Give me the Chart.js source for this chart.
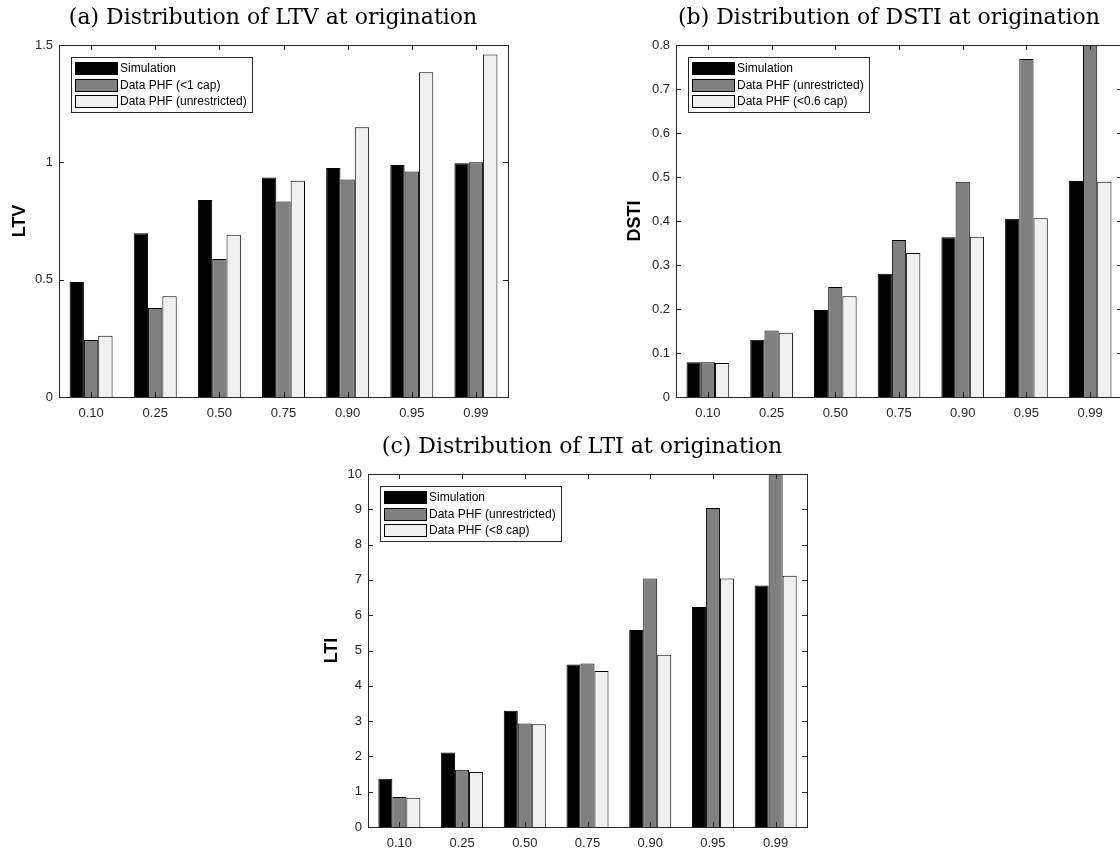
<!DOCTYPE html>
<html>
<head>
<meta charset="utf-8">
<title>Distributions at origination</title>
<script src="https://cdn.jsdelivr.net/npm/chart.js@4.4.1/dist/chart.umd.min.js"></script>
<style>
  html, body { margin: 0; padding: 0; background: #fff; overflow: hidden; width: 1120px; height: 850px; }
  .panel { position: absolute; }
</style>
</head>
<body>
<div class="panel" style="left:0;top:0;width:546px;height:425px"><canvas id="ltv"></canvas></div>
<div class="panel" style="left:600px;top:0;width:578px;height:425px"><canvas id="dsti"></canvas></div>
<div class="panel" style="left:300px;top:420px;width:564px;height:430px"><canvas id="lti"></canvas></div>
<script>
// quantiles on the x axis
const quantiles = ["0.10", "0.25", "0.50", "0.75", "0.90", "0.95", "0.99"];

// (a) LTV
const ltvSim = [0.49, 0.698, 0.839, 0.935, 0.976, 0.989, 0.996];
const ltvCap = [0.243, 0.379, 0.588, 0.833, 0.927, 0.961, 1.0];
const ltvAll = [0.261, 0.429, 0.691, 0.922, 1.149, 1.384, 1.46];

// (b) DSTI  (0.99 unrestricted goes off the top of the axis)
const dstiSim = [0.079, 0.130, 0.198, 0.280, 0.363, 0.405, 0.491];
const dstiAll = [0.079, 0.151, 0.250, 0.357, 0.489, 0.768, 0.95];
const dstiCap = [0.077, 0.146, 0.229, 0.327, 0.364, 0.406, 0.489];

// (c) LTI  (0.99 unrestricted goes off the top of the axis)
const ltiSim = [1.37, 2.11, 3.29, 4.60, 5.58, 6.23, 6.84];
const ltiAll = [0.85, 1.62, 2.93, 4.63, 7.04, 9.04, 11.5];
const ltiCap = [0.83, 1.56, 2.91, 4.42, 4.88, 7.04, 7.12];

const BLACK = "#000000", GREY = "#808080", LIGHT = "#f0f0f0";
const AXIS = "#262626";
const SANS = '"Liberation Sans", Arial, Helvetica, sans-serif';

// matlab style box with ticks pointing inwards
const matlabBox = {
	id: "matlabBox",
	afterDatasetsDraw(chart) {
		const { ctx, chartArea: a, scales: { x, y } } = chart;
		ctx.save();
		ctx.strokeStyle = AXIS;
		ctx.lineWidth = 1;
		ctx.beginPath();
		x.ticks.forEach((t, i) => {
			const px = Math.round(x.getPixelForTick(i)) + 0.5;
			ctx.moveTo(px, a.bottom); ctx.lineTo(px, a.bottom - 5);
			ctx.moveTo(px, a.top); ctx.lineTo(px, a.top + 5);
		});
		y.ticks.forEach((t, i) => {
			const py = Math.round(y.getPixelForTick(i)) + 0.5;
			ctx.moveTo(a.left, py); ctx.lineTo(a.left + 5, py);
			ctx.moveTo(a.right, py); ctx.lineTo(a.right - 5, py);
		});
		ctx.stroke();
		ctx.strokeRect(Math.round(a.left) + 0.5, Math.round(a.top) + 0.5,
			Math.round(a.right - a.left), Math.round(a.bottom - a.top));
		ctx.restore();
	},
};

// legend box in the upper left corner of the axes
const boxLegend = {
	id: "boxLegend",
	afterDraw(chart) {
		const { ctx, chartArea: a } = chart;
		const sets = chart.data.datasets;
		ctx.save();
		ctx.font = "12px " + SANS;
		const textW = Math.max(...sets.map((d) => ctx.measureText(d.label).width));
		const x0 = Math.round(a.left) + 12, y0 = Math.round(a.top) + 12;
		const rowH = 16.5;
		const w = Math.round(49 + textW + 5), h = Math.round(sets.length * rowH + 5);
		ctx.fillStyle = "#fff";
		ctx.fillRect(x0, y0, w, h);
		ctx.strokeStyle = AXIS;
		ctx.lineWidth = 1;
		ctx.strokeRect(x0 + 0.5, y0 + 0.5, w, h);
		ctx.textBaseline = "middle";
		sets.forEach((d, i) => {
			const cy = Math.round(y0 + 11 + i * rowH);
			ctx.fillStyle = d.backgroundColor;
			ctx.fillRect(x0 + 4, cy - 6, 42, 12);
			ctx.strokeStyle = "#000";
			ctx.strokeRect(x0 + 4.5, cy - 5.5, 42, 12);
			ctx.fillStyle = "#000";
			ctx.fillText(d.label, x0 + 49, cy + 0.5);
		});
		ctx.restore();
	},
};

function barSet(label, data, color) {
	return { label: label, data: data, backgroundColor: color, borderColor: "#000", borderWidth: 1, clip: 0 };
}

function makeChart(id, p) {
	return new Chart(document.getElementById(id), {
		type: "bar",
		data: { labels: quantiles, datasets: p.sets },
		plugins: [matlabBox, boxLegend],
		options: {
			responsive: true,
			maintainAspectRatio: false,
			animation: false,
			layout: { padding: 0 },
			datasets: { bar: { barPercentage: 1, categoryPercentage: 0.67 } },
			plugins: {
				legend: { display: false },
				tooltip: { enabled: false },
				title: {
					display: true,
					text: p.title,
					color: "#000",
					font: { family: '"DejaVu Serif", serif', size: 22, weight: "normal" },
					padding: p.titlePad,
				},
			},
			scales: {
				x: {
					grid: { display: false, drawTicks: false },
					border: { display: false },
					ticks: { color: AXIS, font: { family: SANS, size: 13 }, padding: 9 },
					afterFit(s) { s.height = p.xHeight; },
				},
				y: {
					min: 0,
					max: p.max,
					grid: { display: false, drawTicks: false },
					border: { display: false },
					ticks: {
						stepSize: p.step, color: AXIS, font: { family: SANS, size: 13 }, padding: 6,
						callback: (v) => String(+v.toFixed(2)),
					},
					title: {
						display: true,
						text: p.yLabel,
						color: "#000",
						font: { family: SANS, size: 18, weight: "bold" },
						padding: { top: p.yTitlePad, bottom: 0 },
					},
					afterFit(s) { s.width = p.yWidth; },
				},
				// empty space at the right so the title sits where it does in the figure
				right: {
					type: "linear",
					position: "right",
					min: 0, max: 1,
					grid: { display: false, drawTicks: false },
					border: { display: false },
					ticks: { display: false },
					afterFit(s) { s.width = p.rightSpace; },
				},
			},
		},
	});
}

makeChart("ltv", {
	title: "(a) Distribution of LTV at origination",
	yLabel: "LTV", max: 1.5, step: 0.5,
	sets: [
		barSet("Simulation", ltvSim, BLACK),
		barSet("Data PHF (<1 cap)", ltvCap, GREY),
		barSet("Data PHF (unrestricted)", ltvAll, LIGHT),
	],
	rightSpace: 38, yWidth: 59, xHeight: 28, yTitlePad: 9,
	titlePad: { top: 5, bottom: 13.6 },
});

makeChart("dsti", {
	title: "(b) Distribution of DSTI at origination",
	yLabel: "DSTI", max: 0.8, step: 0.1,
	sets: [
		barSet("Simulation", dstiSim, BLACK),
		barSet("Data PHF (unrestricted)", dstiAll, GREY),
		barSet("Data PHF (<0.6 cap)", dstiCap, LIGHT),
	],
	rightSpace: 56, yWidth: 76, xHeight: 28, yTitlePad: 24,
	titlePad: { top: 5, bottom: 13.6 },
});

makeChart("lti", {
	title: "(c) Distribution of LTI at origination",
	yLabel: "LTI", max: 10, step: 1,
	sets: [
		barSet("Simulation", ltiSim, BLACK),
		barSet("Data PHF (unrestricted)", ltiAll, GREY),
		barSet("Data PHF (<8 cap)", ltiCap, LIGHT),
	],
	rightSpace: 57, yWidth: 68, xHeight: 23, yTitlePad: 21,
	titlePad: { top: 14, bottom: 13.6 },
});
</script>
</body>
</html>
